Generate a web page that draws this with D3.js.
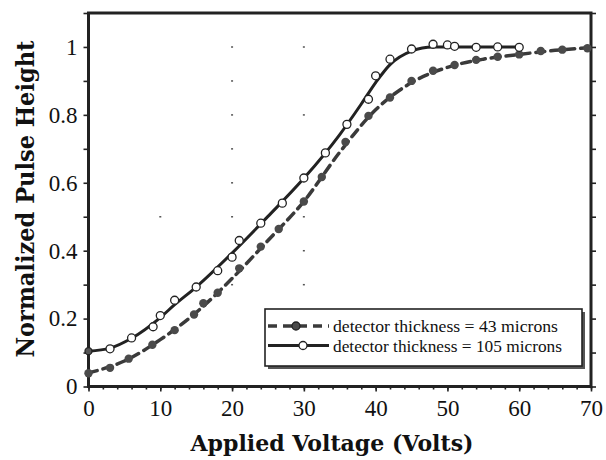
<!DOCTYPE html>
<html>
<head>
<meta charset="utf-8">
<script src="https://cdn.jsdelivr.net/npm/d3@7"></script>
<style>
  body { margin: 0; background: #fff; }
  svg { display: block; }
</style>
</head>
<body>
<svg width="606" height="460"></svg>
<script>
// 105 micron detector (solid line, open circles)
const volts105 = [0, 3, 6, 9, 10, 12, 15, 18, 20, 21, 24, 27, 30, 33, 36, 39, 40, 42, 45, 48, 50, 51, 54, 57, 60];
const pulse105 = [0.104, 0.111, 0.143, 0.176, 0.209, 0.254, 0.293, 0.341, 0.381, 0.43, 0.481, 0.54, 0.614, 0.688, 0.772, 0.846, 0.915, 0.964, 0.994, 1.008, 1.006, 1.002, 0.999, 1.0, 0.999];
// smooth curve drawn through the 105 micron points
const fitVolts105 = [0, 3, 6, 10, 12, 15, 20, 25, 30, 35, 38, 40, 42, 45, 48, 52, 60];
const fitPulse105 = [0.104, 0.113, 0.142, 0.203, 0.241, 0.293, 0.393, 0.501, 0.613, 0.742, 0.832, 0.895, 0.948, 0.988, 1.0, 1.0, 1.0];

// 43 micron detector (dashed line, filled dots)
const volts43 = [0, 3, 5.6, 8.9, 12, 14.7, 16, 18, 21, 24, 26.5, 30, 32.5, 35.8, 39, 42, 45, 48, 51, 54, 57, 60, 63, 66, 69.5];
const pulse43 = [0.039, 0.055, 0.082, 0.123, 0.166, 0.212, 0.245, 0.276, 0.348, 0.412, 0.464, 0.545, 0.617, 0.72, 0.797, 0.851, 0.9, 0.93, 0.947, 0.962, 0.971, 0.978, 0.988, 0.992, 0.996];
const fitVolts43 = [0, 5, 10, 15, 20, 25, 30, 35, 40, 45, 50, 55, 60, 65, 70];
const fitPulse43 = [0.04, 0.075, 0.138, 0.218, 0.318, 0.43, 0.545, 0.69, 0.815, 0.895, 0.94, 0.964, 0.978, 0.99, 0.998];

const xTicks = [0, 10, 20, 30, 40, 50, 60, 70];
const yTicks = [0, 0.1, 0.2, 0.3, 0.4, 0.5, 0.6, 0.7, 0.8, 0.9, 1, 1.1];
const yLabels = ["0", "", "0.2", "", "0.4", "", "0.6", "", "0.8", "", "1", ""];

// faint scanner dots on the plotting area
const dotVolts = [20, 20, 20, 20, 20, 20, 20, 30, 30, 30, 30, 30, 10];
const dotPulse = [0.3, 0.5, 0.6, 0.7, 0.8, 0.9, 1.0, 0.3, 0.4, 0.5, 0.8, 1.0, 0.5];

const legendLabels = ["detector thickness = 43 microns", "detector thickness = 105 microns"];

const SERIF = "Liberation Serif";
const TITLE = "DejaVu Serif";

const main = function() {
  const svg = d3.select("svg");
  const left = 88.5, right = 591, top = 13, bottom = 386.5;
  const ink = "#222";

  const x = d3.scaleLinear().domain([0, 70]).range([left, right]);
  const y = d3.scaleLinear().domain([0, 1.1]).range([bottom, top]);

  // axes
  const yAxis = d3.axisLeft(y)
    .tickValues(yTicks)
    .tickSize(5)
    .tickPadding(6)
    .tickFormat((d, i) => yLabels[i]);
  const gy = svg.append("g").attr("transform", `translate(${left},0)`).call(yAxis);

  const gr = svg.append("g").attr("transform", `translate(${right},0)`)
    .call(d3.axisRight(y).tickValues(yTicks).tickSize(5).tickFormat(""));

  const xAxis = d3.axisBottom(x).tickValues(xTicks).tickSize(5).tickPadding(8);
  const gx = svg.append("g").attr("transform", `translate(0,${bottom})`).call(xAxis);

  const gxm = svg.append("g").attr("transform", `translate(0,${bottom})`)
    .call(d3.axisBottom(x).tickValues(d3.range(0, 71, 2)).tickSize(3).tickFormat(""));

  [gy, gr, gx, gxm].forEach(g => {
    g.attr("font-family", SERIF).attr("font-size", 23);
    g.select(".domain").remove();
    g.selectAll("line").attr("stroke", ink).attr("stroke-width", 1.6);
    g.selectAll("text")
      .attr("font-family", SERIF)
      .attr("font-size", 23)
      .attr("fill", "#111");
  });

  // frame
  svg.append("rect")
    .attr("x", left).attr("y", top)
    .attr("width", right - left).attr("height", bottom - top)
    .attr("fill", "none").attr("stroke", ink).attr("stroke-width", 3);

  // scanner dots
  svg.append("g").selectAll("rect")
    .data(dotVolts.map((v, i) => [v, dotPulse[i]]))
    .join("rect")
    .attr("x", d => x(d[0]) - 1).attr("y", d => y(d[1]) - 0.7)
    .attr("width", 2).attr("height", 1.5)
    .attr("fill", "#555");

  const data43 = volts43.map((v, i) => ({ v, p: pulse43[i] }));
  const data105 = volts105.map((v, i) => ({ v, p: pulse105[i] }));
  const fit43 = fitVolts43.map((v, i) => ({ v, p: fitPulse43[i] }));
  const fit105 = fitVolts105.map((v, i) => ({ v, p: fitPulse105[i] }));

  const line = d3.line().x(d => x(d.v)).y(d => y(d.p)).curve(d3.curveMonotoneX);

  // 43 microns: dashed
  svg.append("path")
    .attr("d", line(fit43))
    .attr("fill", "none")
    .attr("stroke", "#3a3a3a")
    .attr("stroke-width", 3.5)
    .attr("stroke-dasharray", "9,6")
    .attr("stroke-linecap", "round");
  svg.append("g").selectAll("circle")
    .data(data43)
    .join("circle")
    .attr("cx", d => x(d.v)).attr("cy", d => y(d.p))
    .attr("r", 4.2)
    .attr("fill", "#4a4a4a");

  // 105 microns: solid
  svg.append("path")
    .attr("d", line(fit105))
    .attr("fill", "none")
    .attr("stroke", ink)
    .attr("stroke-width", 3);
  svg.append("g").selectAll("circle")
    .data(data105)
    .join("circle")
    .attr("cx", d => x(d.v)).attr("cy", d => y(d.p))
    .attr("r", d => d.v === 0 ? 3.5 : 4)
    .attr("fill", d => d.v === 0 ? "#555" : "#fff")
    .attr("stroke", ink)
    .attr("stroke-width", 1.3);

  // legend
  const lg = svg.append("g");
  lg.append("rect").attr("x", 268).attr("y", 312).attr("width", 317).attr("height", 57).attr("fill", "#555");
  lg.append("rect").attr("x", 265).attr("y", 309).attr("width", 317).attr("height", 57)
    .attr("fill", "#fff").attr("stroke", ink).attr("stroke-width", 1.6);

  const rows = [
    { y: 326, dash: "9,6", width: 3.5, color: "#3a3a3a", fill: "#4a4a4a", mx: 296 },
    { y: 345.5, dash: null, width: 3, color: ink, fill: "#fff", mx: 303 }
  ];
  rows.forEach((r, i) => {
    lg.append("line")
      .attr("x1", 268).attr("x2", 329).attr("y1", r.y).attr("y2", r.y)
      .attr("stroke", r.color).attr("stroke-width", r.width)
      .attr("stroke-dasharray", r.dash);
    lg.append("circle").attr("cx", r.mx).attr("cy", r.y).attr("r", 4)
      .attr("fill", r.fill).attr("stroke", ink).attr("stroke-width", 1.3);
    lg.append("text")
      .attr("x", 333).attr("y", r.y + 6)
      .attr("textLength", i === 0 ? 225 : 229)
      .attr("lengthAdjust", "spacingAndGlyphs")
      .attr("font-family", SERIF)
      .attr("font-size", 17)
      .attr("fill", "#111")
      .text(legendLabels[i]);
  });

  // titles
  svg.append("text")
    .attr("x", 332).attr("y", 451)
    .attr("text-anchor", "middle")
    .attr("textLength", 283).attr("lengthAdjust", "spacingAndGlyphs")
    .attr("font-family", TITLE).attr("font-weight", "bold").attr("font-size", 23)
    .attr("fill", "#111")
    .text("Applied Voltage (Volts)");

  svg.append("text")
    .attr("transform", "translate(34,199) rotate(-90)")
    .attr("text-anchor", "middle")
    .attr("textLength", 317).attr("lengthAdjust", "spacingAndGlyphs")
    .attr("font-family", TITLE).attr("font-weight", "bold").attr("font-size", 24)
    .attr("fill", "#111")
    .text("Normalized Pulse Height");
};

window.onload = main;
</script>
</body>
</html>
